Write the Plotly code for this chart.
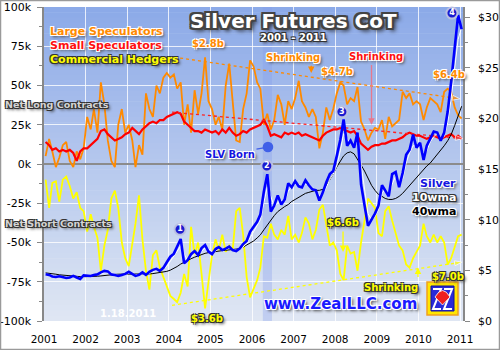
import pandas as pd
import plotly.graph_objects as go

# ---------------------------------------------------------------- data
# monthly readings, mid-month, Jan 2001 .. Jan 2011
months = pd.date_range("2001-01-01", "2011-01-01", freq="MS") + pd.Timedelta(days=14)

# net positions, thousands of contracts
large_spec_k = [
    5, 16, 8, -2, 4, 12, 14, 2, -2, 8, 3, 10,
    30, 22, 35, 20, 52, 38, 15, 2, -2, 25, 35, 20,
    25, 15, -2, 12, 6, 45, 35, 30, 50, 45, 55, 58,
    55, 57, 48, 52, 25, 38, 20, 47, 32, 45, 68, 40,
    35, 25, 30, 22, 50, 64, 40, 15, 14, 35, 45, 66,
    62, 52, 48, 25, 32, 22, 28, 44, 38, 25, 40, 35,
    42, 53, 40, 36, 30, 35, 30, 10, 20, 36, 28, 35,
    45, 52, 50, 38, 42, 40, 49, 27, 22, 15, 20, 23,
    22, 28, 16, 30, 24, 26, 28, 46, 42, 45, 38, 40,
    38, 28, 36, 42, 40, 38, 33, 46, 48, 46, 36, 31, 29,
]
small_spec_k = [
    14, 12, 9, 10, 8, 9, 8, 9, 7, 2, 8, 10,
    10, 12, 14, 16, 21, 22, 19, 17, 15, 16, 17, 19,
    20, 23, 21, 19, 22, 24, 26, 27, 26, 28, 28, 30,
    31, 32, 33, 32, 27, 25, 23, 21, 21, 20, 22, 21,
    20, 21, 19, 22, 20, 23, 20, 18, 19, 21, 20, 22,
    23, 24, 25, 28, 24, 18, 19, 18, 17, 20, 19, 20,
    19, 20, 18, 19, 18, 17, 16, 15, 18, 20, 21, 22,
    22, 23, 22, 21, 20, 21, 18, 13, 11, 9, 11, 12,
    12, 13, 13, 14, 15, 15, 16, 17, 19, 20, 19, 18,
    18, 17, 16, 17, 18, 17, 16, 17, 18, 19, 17, 18, 16,
]
commercial_k = [
    -10, -28, -12, -11, -24, -10, -8, -14, -22, -18, -28, -30,
    -43, -32, -40, -47, -68, -52, -42, -22, -17, -28, -50, -60,
    -65, -52, -38, -20, -48, -68, -80, -58, -55, -66, -72, -78,
    -84, -86, -88, -82, -70, -78, -40, -58, -50, -70, -92, -75,
    -58, -48, -55, -45, -56, -52, -55, -30, -28, -45, -72, -85,
    -80, -74, -66, -46, -47, -38, -45, -48, -42, -45, -33, -48,
    -45, -50, -44, -34, -38, -48, -42, -29, -26, -40, -52, -50,
    -55, -70, -74, -52, -57, -56, -68, -50, -35, -22, -25, -28,
    -44, -46, -30, -27, -36, -45, -52, -55, -64, -66, -60, -56,
    -52, -38, -46, -50, -45, -50, -46, -50, -64, -60, -52, -46, -45,
]

# silver, US$ per ounce
silver_usd = [
    4.62, 4.55, 4.40, 4.35, 4.42, 4.35, 4.25, 4.30, 4.45, 4.30, 4.15, 4.50,
    4.50, 4.45, 4.55, 4.60, 4.80, 4.95, 4.90, 4.60, 4.55, 4.45, 4.55, 4.65,
    4.85, 4.60, 4.45, 4.55, 4.80, 4.55, 4.85, 5.05, 5.15, 4.95, 5.25, 5.80,
    6.35, 6.65, 7.40, 8.10, 5.70, 6.00, 6.60, 6.90, 6.50, 7.20, 7.50, 6.85,
    6.60, 7.10, 7.30, 7.00, 7.15, 7.35, 7.00, 6.90, 7.15, 7.60, 7.90, 8.80,
    9.30, 9.80, 10.5, 12.8, 14.5, 10.8, 11.4, 12.4, 11.5, 12.0, 13.6, 13.2,
    13.8, 13.3, 13.2, 13.9, 13.4, 13.0, 12.9, 11.9, 12.7, 13.7, 14.5, 14.8,
    16.3, 17.9, 19.9, 17.3, 17.8, 17.1, 18.6, 13.5, 11.4, 9.4, 10.0, 10.6,
    11.4, 13.4, 12.9, 12.3, 14.5, 14.7, 13.2, 14.6, 16.4, 16.9, 18.4, 17.1,
    17.6, 15.9, 17.3, 18.1, 18.7, 18.6, 17.8, 18.6, 20.7, 23.6, 27.0, 30.2, 28.8,
]
silver_10wma = [
    4.65, 4.60, 4.50, 4.40, 4.38, 4.37, 4.30, 4.28, 4.35, 4.35, 4.25, 4.35,
    4.45, 4.47, 4.50, 4.55, 4.65, 4.80, 4.90, 4.75, 4.60, 4.50, 4.50, 4.57,
    4.70, 4.68, 4.58, 4.55, 4.65, 4.62, 4.70, 4.88, 5.02, 5.00, 5.10, 5.40,
    5.90, 6.35, 6.80, 7.40, 6.60, 6.00, 6.30, 6.60, 6.60, 6.90, 7.20, 7.10,
    6.85, 6.90, 7.15, 7.10, 7.05, 7.20, 7.10, 7.00, 7.00, 7.35, 7.65, 8.20,
    8.80, 9.40, 10.0, 11.7, 13.2, 12.3, 11.3, 11.7, 11.9, 11.8, 12.8, 13.3,
    13.5, 13.5, 13.3, 13.5, 13.5, 13.2, 12.9, 12.4, 12.5, 13.2, 14.0, 14.5,
    15.3, 16.8, 18.5, 18.0, 17.5, 17.2, 17.8, 15.5, 12.8, 10.6, 10.0, 10.3,
    11.0, 12.6, 13.0, 12.5, 13.5, 14.3, 13.6, 14.0, 15.6, 16.6, 17.3, 17.3,
    17.3, 16.5, 16.8, 17.7, 18.2, 18.5, 18.1, 18.2, 19.6, 22.0, 24.8, 27.8, 29.0,
]
silver_40wma = [
    4.75, 4.72, 4.68, 4.62, 4.56, 4.52, 4.48, 4.45, 4.42, 4.40, 4.38, 4.37,
    4.37, 4.38, 4.40, 4.42, 4.45, 4.50, 4.55, 4.58, 4.60, 4.62, 4.62, 4.62,
    4.62, 4.62, 4.60, 4.60, 4.62, 4.63, 4.65, 4.68, 4.72, 4.76, 4.82, 4.90,
    5.02, 5.18, 5.38, 5.62, 5.82, 5.98, 6.15, 6.30, 6.45, 6.58, 6.68, 6.75,
    6.82, 6.88, 6.92, 6.95, 6.98, 7.02, 7.06, 7.10, 7.14, 7.30, 7.50, 7.70,
    7.90, 8.20, 8.50, 9.00, 9.50, 9.90, 10.4, 10.8, 11.1, 11.3, 11.5, 11.8,
    12.0, 12.2, 12.4, 12.6, 12.7, 12.8, 12.9, 12.9, 13.0, 13.4, 13.9, 14.5,
    15.2, 15.8, 16.3, 16.6, 16.7, 16.5, 16.0, 15.4, 14.8, 14.1, 13.4, 12.9,
    12.5, 12.3, 12.1, 12.0, 12.0, 12.1, 12.3, 12.6, 13.0, 13.4, 13.8, 14.2,
    14.6, 14.9, 15.3, 15.6, 16.0, 16.4, 16.8, 17.3, 17.8, 18.4, 19.3, 20.3, 21.2,
]

# dotted trend guides (dates, thousands of contracts)
large_trend_dates = ["2004-04-10", "2011-01-01"]
large_trend_k = [67.5, 41.5]
small_trend_dates = ["2004-01-30", "2011-01-27"]
small_trend_k = [33, 16.2]
comm_trend_dates = ["2004-01-30", "2011-01-20"]
comm_trend_k = [-90, -62.5]

# numbered price milestones
milestone_text = ["1", "2", "3", "4"]
milestone_dates = ["2004-04-09", "2006-05-11", "2008-02-29", "2010-10-22"]
milestone_usd = [9.05, 15.3, 20.65, 30.4]

year_ticks = [f"{y}-01-01" for y in range(2001, 2012)]
year_labels = [str(y) for y in range(2001, 2012)]
k_ticks = [-100, -75, -50, -25, 0, 25, 50, 75, 100]
k_labels = [f"{v}k" for v in k_ticks]
usd_ticks = [0, 5, 10, 15, 20, 25, 30]
usd_labels = [f"${v}" for v in usd_ticks]

# ---------------------------------------------------------------- layout geometry
W, H = 500, 350
L, R, T, B = 44, 463, 7, 321


def px(x):
    return (x - L) / (R - L)


def py(y):
    return (B - y) / (B - T)


FONT = "DejaVu Sans"
SH_WHITE = ("1px 1px 0 #fff, -1px -1px 0 #fff, 1px -1px 0 #fff, -1px 1px 0 #fff, "
            "2px 2px 3px #444")
SH_DARK = ("1px 1px 0 #333, -1px -1px 0 #333, 1px -1px 0 #333, -1px 1px 0 #333, "
           "2px 2px 3px #444")
SH_TITLE = ("2px 2px 0 #444, -2px -2px 0 #444, 2px -2px 0 #444, -2px 2px 0 #444, "
            "0 2px 0 #444, 2px 0 0 #444, -2px 0 0 #444, 0 -2px 0 #444, 3px 3px 4px #222")

fig = go.Figure()

k = 1000
fig.add_trace(go.Scatter(x=months, y=[v * k for v in large_spec_k], mode="lines",
                         line=dict(color="#ff8a00", width=1.8), hoverinfo="skip"))
fig.add_trace(go.Scatter(x=months, y=[v * k for v in small_spec_k], mode="lines",
                         line=dict(color="#ff0000", width=2.2), hoverinfo="skip"))
fig.add_trace(go.Scatter(x=months, y=[v * k for v in commercial_k], mode="lines",
                         line=dict(color="#ffff00", width=1.8), hoverinfo="skip"))

# trend guides with arrow tips
for d, v, c in [(large_trend_dates, large_trend_k, "#ff8a00"),
                (small_trend_dates, small_trend_k, "#ff2020"),
                (comm_trend_dates, comm_trend_k, "#ffff00")]:
    fig.add_trace(go.Scatter(
        x=d, y=[a * k for a in v], mode="lines+markers", cliponaxis=False,
        line=dict(color=c, width=1.3, dash="dot"),
        marker=dict(symbol="arrow", angleref="previous", size=[0, 8], color=c),
        hoverinfo="skip"))

fig.add_trace(go.Scatter(x=months, y=silver_40wma, yaxis="y2", mode="lines",
                         line=dict(color="#000000", width=1), hoverinfo="skip"))
fig.add_trace(go.Scatter(x=months, y=silver_10wma, yaxis="y2", mode="lines",
                         line=dict(color="#ffffff", width=1), hoverinfo="skip"))
fig.add_trace(go.Scatter(x=months, y=silver_usd, yaxis="y2", mode="lines",
                         line=dict(color="#0000ff", width=2.6), hoverinfo="skip"))
fig.add_trace(go.Scatter(
    x=milestone_dates, y=milestone_usd, yaxis="y2", mode="markers+text",
    text=milestone_text, textposition="middle center", cliponaxis=False,
    textfont=dict(family=FONT, size=8, color="white", weight="bold"),
    marker=dict(size=11, color="#1a1ad0", line=dict(color="rgba(190,195,225,0.95)", width=2)),
    hoverinfo="skip"))

# ---------------------------------------------------------------- background
shapes = []
N = 60
top_c = (140, 170, 232)
bot_c = (223, 230, 243)
for i in range(N):
    t = i / (N - 1)
    c = tuple(round(top_c[j] + (bot_c[j] - top_c[j]) * t) for j in range(3))
    y1 = 1 - i / N
    y0 = 1 - (i + 1) / N - 0.002
    shapes.append(dict(type="rect", xref="paper", yref="paper", x0=0, x1=1,
                       y0=max(y0, 0), y1=y1, fillcolor=f"rgb{c}",
                       line=dict(width=0), layer="below"))
# SLV launch band
shapes.append(dict(type="rect", xref="x", yref="paper", x0="2006-04-06", x1="2006-06-25",
                   y0=0, y1=1, fillcolor="rgba(130,155,235,0.32)", line=dict(width=0),
                   layer="below"))
# outer frame
shapes.append(dict(type="rect", xref="paper", yref="paper", x0=px(0.5), x1=px(W - 0.5),
                   y0=py(H - 0.5), y1=py(0.5), line=dict(color="#9a9a9a", width=1.5)))

# logo
def rect(x0, y0, x1, y1, **kw):
    return dict(type="rect", xref="paper", yref="paper", x0=px(x0), x1=px(x1),
                y0=py(y1), y1=py(y0), **kw)


def path(pts, close=True, **kw):
    s = "M " + " L ".join(f"{px(a):.4f},{py(b):.4f}" for a, b in pts)
    if close:
        s += " Z"
    return dict(type="path", xref="paper", yref="paper", path=s, **kw)


shapes.append(rect(427, 282, 458, 315, fillcolor="#ffe600", line=dict(color="#f0a020", width=1.5)))
shapes.append(rect(431, 286, 454, 311, fillcolor="#2a2ad8", line=dict(color="#1010a0", width=1)))
shapes.append(path([(433, 289), (441, 289), (433, 309), (441, 309)], close=False,
                   line=dict(color="white", width=2)))
shapes.append(path([(444, 289), (452, 289), (444, 309), (452, 309)], close=False,
                   line=dict(color="white", width=2)))
fan = "M {0},{1} L {2},{3} Q {4},{5} {6},{7} Z".format(
    f"{px(442.5):.4f}", f"{py(305):.4f}", f"{px(435):.4f}", f"{py(297):.4f}",
    f"{px(442.5):.4f}", f"{py(284):.4f}", f"{px(450):.4f}", f"{py(297):.4f}")
shapes.append(dict(type="path", xref="paper", yref="paper", path=fan,
                   fillcolor="#ee2020", line=dict(color="white", width=0.8)))

# ---------------------------------------------------------------- labels
anns = []


def label(text, x, y, color, size, shadow, xanchor="center", weight="bold"):
    anns.append(dict(text=text, x=px(x), y=py(y), xref="paper", yref="paper",
                     xanchor=xanchor, yanchor="middle", showarrow=False,
                     font=dict(family=FONT, size=size, color=color, weight=weight,
                               shadow=shadow)))


label("Silver Futures CoT", 293, 21, "white", 20, SH_TITLE)
label("2001 - 2011", 293, 38, "white", 10, SH_DARK)
label("Large Speculators", 48, 32, "#ff8a00", 11, SH_WHITE, "left")
label("Small Speculators", 48, 46, "#ff1010", 11, SH_WHITE, "left")
label("Commercial Hedgers", 48, 60, "#ffff00", 11, SH_DARK, "left")
label("Net Long Contracts", 3, 104, "#d4d4d4", 9.5, SH_DARK, "left")
label("Net Short Contracts", 3, 223, "#d4d4d4", 9.5, SH_DARK, "left")
label("$2.8b", 208, 44, "#ff8a00", 10, SH_WHITE)
label("Shrinking", 293, 58, "#ff8a00", 10, SH_WHITE)
label("$4.7b", 337, 72, "#ff8a00", 10, SH_WHITE)
label("Shrinking", 376, 57, "#ff1010", 10, SH_WHITE)
label("$6.4b", 449, 75, "#ff8a00", 10, SH_WHITE)
label("Silver", 458, 183, "#1515e0", 11, SH_WHITE, "right")
label("10wma", 458, 197, "white", 11, SH_DARK, "right")
label("40wma", 458, 211, "black", 11, SH_WHITE, "right")
label("$6.6b", 343, 222, "#ffff00", 10, SH_DARK)
label("$3.6b", 207, 318, "#ffff00", 10, SH_DARK)
label("$7.0b", 448, 276, "#ffff00", 10, SH_DARK)
label("Shrinking", 391, 287, "#ffff00", 10, SH_DARK)
label("www.ZealLLC.com", 340, 304, "#1a1aff", 15, SH_WHITE)
label("1.18.2011", 128, 313, "white", 10, "none")

# pointer arrows in data units
def pointer(x, y, ay, color, yref="y"):
    anns.append(dict(x=x, y=y, ax=x, ay=ay, xref="x", yref=yref, axref="x", ayref=yref,
                     text="", showarrow=True, arrowhead=2, arrowsize=1, arrowwidth=1.3,
                     arrowcolor=color))


pointer("2007-06-05", 58000, 63500, "#ff8a00")
pointer("2008-11-15", 25000, 64000, "#e8788c")
pointer("2008-03-10", -56000, -42000, "#ffff00")
pointer("2009-12-28", -66000, -73000, "#ffff00")

anns.append(dict(x="2006-05-21", y=10800, xref="x", yref="y", text="SLV Born",
                 ax=-38, ay=7, showarrow=True, arrowhead=6, arrowsize=2.2,
                 arrowwidth=1.2, arrowcolor="#4060e8", standoff=0,
                 font=dict(family=FONT, size=10, color="#1515e0", weight="bold",
                           shadow=SH_WHITE)))

tickfont = dict(family=FONT, size=11, color="black")
fig.update_layout(
    width=W, height=H,
    margin=dict(l=L, r=W - R, t=T, b=H - B, pad=0, autoexpand=False),
    paper_bgcolor="white", plot_bgcolor="rgba(0,0,0,0)",
    showlegend=False,
    shapes=shapes, annotations=anns,
    xaxis=dict(type="date", range=["2001-01-01", "2011-01-27"], automargin=False,
               tickvals=year_ticks, ticktext=year_labels,
               tickfont=dict(family=FONT, size=10.5, color="black"),
               ticks="outside", ticklen=8, tickcolor="rgba(0,0,0,0)",
               showgrid=True, gridcolor="rgba(255,255,255,0.8)", gridwidth=1,
               showline=False, zeroline=False),
    yaxis=dict(range=[-100000, 100000], tickvals=[v * k for v in k_ticks], ticktext=k_labels,
               automargin=False,
               tickfont=tickfont, ticks="outside", ticklen=5, tickcolor="#888",
               minor=dict(dtick=12500, tick0=0, ticks="outside", ticklen=3, tickcolor="#888",
                          showgrid=False),
               showline=True, linecolor="#888", linewidth=1.5,
               showgrid=True, gridcolor="rgba(255,255,255,0.8)", gridwidth=1,
               zeroline=True, zerolinecolor="#8c8c8c", zerolinewidth=2,
               ticklabelstandoff=4),
    yaxis2=dict(range=[0, 31], overlaying="y", side="right", anchor="x", automargin=False,
                tickvals=usd_ticks, ticktext=usd_labels, tickfont=tickfont,
                ticks="outside", ticklen=5, tickcolor="#888",
                minor=dict(dtick=2.5, tick0=0, ticks="outside", ticklen=3, tickcolor="#888",
                           showgrid=False),
                showline=True, linecolor="#888", linewidth=1.5,
                showgrid=False, zeroline=False, ticklabelstandoff=6),
)

fig.write_html("out.html")
